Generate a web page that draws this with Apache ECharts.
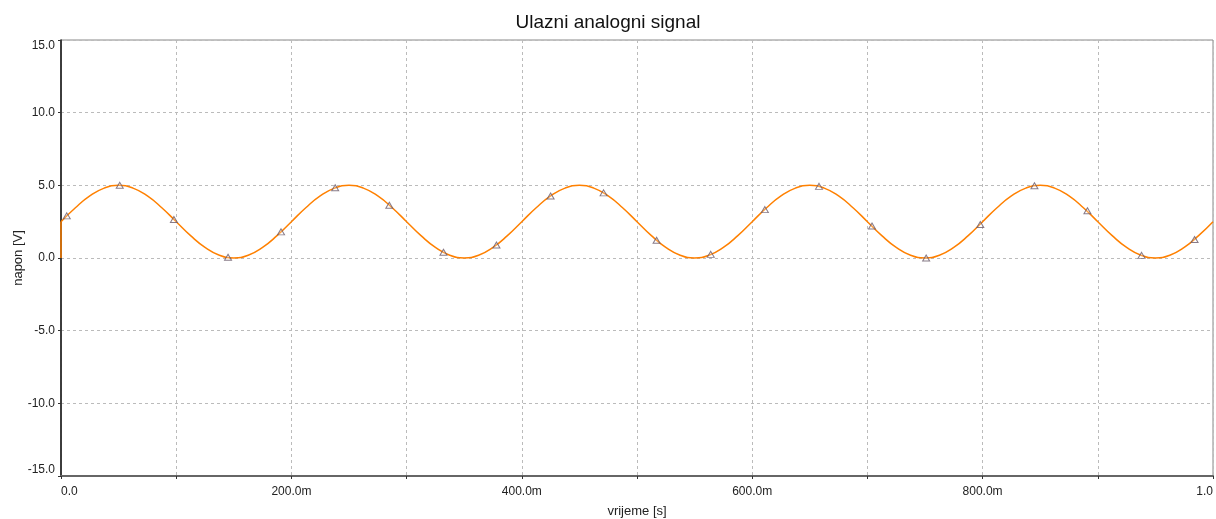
<!DOCTYPE html>
<html>
<head>
<meta charset="utf-8">
<title>Ulazni analogni signal</title>
<script src="https://cdn.jsdelivr.net/npm/echarts@6/dist/echarts.min.js"></script>
<style>
  html, body { margin: 0; padding: 0; background: #fff; }
  #chart { width: 1216px; height: 519px; }
</style>
</head>
<body>
<div id="chart"></div>
<script>
// vrijeme [s] of the sampled curve
var sampleTime = [
  0, 0.0125, 0.025, 0.0375, 0.05, 0.0625, 0.075, 0.0875, 0.1, 0.1125, 0.125, 0.1375, 0.15, 0.1625, 0.175, 0.1875,
  0.2, 0.2125, 0.225, 0.2375, 0.25, 0.2625, 0.275, 0.2875, 0.3, 0.3125, 0.325, 0.3375, 0.35, 0.3625, 0.375, 0.3875,
  0.4, 0.4125, 0.425, 0.4375, 0.45, 0.4625, 0.475, 0.4875, 0.5, 0.5125, 0.525, 0.5375, 0.55, 0.5625, 0.575, 0.5875,
  0.6, 0.6125, 0.625, 0.6375, 0.65, 0.6625, 0.675, 0.6875, 0.7, 0.7125, 0.725, 0.7375, 0.75, 0.7625, 0.775, 0.7875,
  0.8, 0.8125, 0.825, 0.8375, 0.85, 0.8625, 0.875, 0.8875, 0.9, 0.9125, 0.925, 0.9375, 0.95, 0.9625, 0.975, 0.9875,
  1.0
];
// napon [V]
var sampleVolt = [
  2.5, 3.46, 4.27, 4.81, 5.0, 4.81, 4.27, 3.46, 2.5, 1.54, 0.73, 0.19, 0.0, 0.19, 0.73, 1.54,
  2.5, 3.46, 4.27, 4.81, 5.0, 4.81, 4.27, 3.46, 2.5, 1.54, 0.73, 0.19, 0.0, 0.19, 0.73, 1.54,
  2.5, 3.46, 4.27, 4.81, 5.0, 4.81, 4.27, 3.46, 2.5, 1.54, 0.73, 0.19, 0.0, 0.19, 0.73, 1.54,
  2.5, 3.46, 4.27, 4.81, 5.0, 4.81, 4.27, 3.46, 2.5, 1.54, 0.73, 0.19, 0.0, 0.19, 0.73, 1.54,
  2.5, 3.46, 4.27, 4.81, 5.0, 4.81, 4.27, 3.46, 2.5, 1.54, 0.73, 0.19, 0.0, 0.19, 0.73, 1.54,
  2.5
];
// start of the trace: jump from 0 V up to the first sample
var startTime = [0, 0];
var startVolt = [0, 2.5];
// triangle markers on the trace
var markTime = [0.005, 0.051, 0.098, 0.145, 0.191, 0.238, 0.285, 0.332, 0.378, 0.425, 0.471,
  0.517, 0.564, 0.611, 0.658, 0.704, 0.751, 0.798, 0.845, 0.891, 0.938, 0.984];
var markVolt = [2.9, 5.0, 2.65, 0.05, 1.8, 4.83, 3.63, 0.4, 0.9, 4.27, 4.48,
  1.22, 0.25, 3.33, 4.93, 2.2, 0.0, 2.3, 4.97, 3.25, 0.18, 1.27];

var chart = echarts.init(document.getElementById("chart"));

function zip(a, b) {
  return a.map(function (v, i) { return [v, b[i]]; });
}

var textFont = "Liberation Sans, Arial, sans-serif";

var option = {
  animation: false,
  backgroundColor: "#fff",
  title: {
    text: "Ulazni analogni signal",
    left: "center",
    top: 8,
    textStyle: { fontSize: 19, fontWeight: "normal", color: "#111", fontFamily: textFont }
  },
  grid: {
    left: 61,
    right: 3,
    top: 40,
    bottom: 43,
    outerBoundsMode: "none",
    containLabel: false,
    show: true,
    borderColor: "#888",
    borderWidth: 1
  },
  xAxis: {
    type: "value",
    min: 0,
    max: 1,
    interval: 0.1,
    name: "vrijeme [s]",
    nameLocation: "middle",
    nameGap: 29,
    nameTextStyle: { fontSize: 13, color: "#222", fontFamily: textFont },
    axisLine: { onZero: false, lineStyle: { color: "#666", width: 2 } },
    axisTick: { show: true, length: 3, lineStyle: { color: "#333" } },
    axisLabel: {
      fontSize: 12,
      color: "#222",
      fontFamily: textFont,
      margin: 10,
      alignMinLabel: "left",
      alignMaxLabel: "right",
      formatter: function (v) {
        var k = Math.round(v * 10);
        if (k % 2 !== 0) return "";
        if (k === 0) return "0.0";
        if (k === 10) return "1.0";
        return (v * 1000).toFixed(1) + "m";
      }
    },
    splitLine: { show: true, lineStyle: { color: "#bbb", type: [3, 3] } }
  },
  yAxis: {
    type: "value",
    min: -15,
    max: 15,
    interval: 5,
    name: "napon [V]",
    nameLocation: "middle",
    nameGap: 36,
    nameMoveOverlap: false,
    nameTextStyle: { fontSize: 13, color: "#222", fontFamily: textFont },
    axisLine: { show: true, onZero: false, lineStyle: { color: "#111", width: 1.5 } },
    axisTick: { show: true, length: 3, lineStyle: { color: "#333" } },
    axisLabel: {
      fontSize: 12,
      color: "#222",
      fontFamily: textFont,
      margin: 6,
      verticalAlignMinLabel: "bottom",
      verticalAlignMaxLabel: "top",
      formatter: function (v) { return v.toFixed(1); }
    },
    splitLine: { show: true, lineStyle: { color: "#bbb", type: [3, 3] } }
  },
  series: [
    {
      name: "signal",
      type: "line",
      data: zip(sampleTime, sampleVolt),
      smooth: 0.5,
      showSymbol: false,
      lineStyle: { color: "#ff8000", width: 1.5 },
      z: 2
    },
    {
      name: "start",
      type: "line",
      data: zip(startTime, startVolt),
      showSymbol: false,
      lineStyle: { color: "#ff8000", width: 1.5 },
      z: 2
    },
    {
      name: "markeri",
      type: "scatter",
      data: zip(markTime, markVolt),
      symbol: "triangle",
      symbolSize: [7, 6],
      itemStyle: { color: "rgba(255,255,255,0.3)", borderColor: "#6a5a6a", borderWidth: 1 },
      z: 3
    }
  ]
};

chart.setOption(option);
</script>
</body>
</html>
